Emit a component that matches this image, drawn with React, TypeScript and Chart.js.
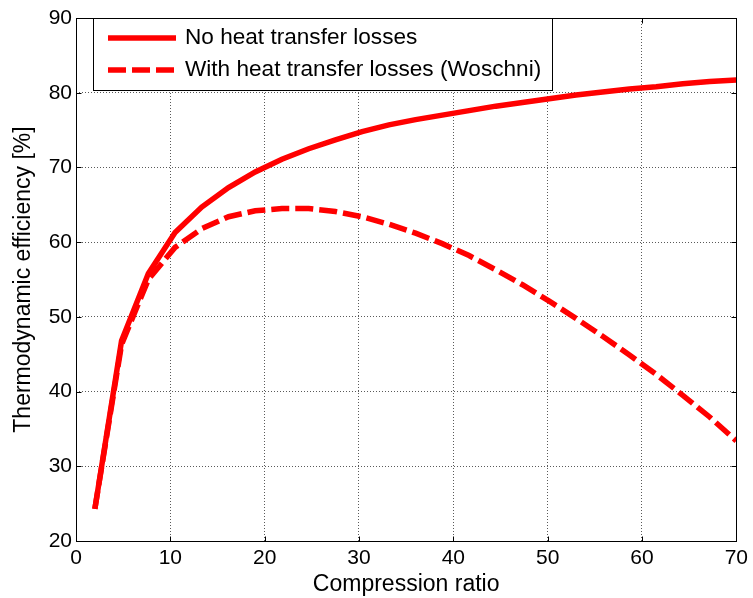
import { useEffect, useRef } from "react";
import { Chart, registerables } from "chart.js";

Chart.register(...registerables);

// Compression ratio sweep and resulting thermodynamic efficiency (%)
const compressionRatio = [
  2, 4.83, 7.67, 10.5, 13.33, 16.17, 19, 21.83, 24.67, 27.5, 30.33, 33.17, 36,
  38.83, 41.67, 44.5, 47.33, 50.17, 53, 55.83, 58.67, 61.5, 64.33, 67.17, 70,
];
const efficiencyNoLosses = [
  24.3, 46.8, 55.8, 61.3, 64.7, 67.3, 69.4, 71.1, 72.5, 73.7, 74.8, 75.7, 76.4,
  77.0, 77.6, 78.2, 78.7, 79.2, 79.7, 80.1, 80.5, 80.8, 81.2, 81.5, 81.7,
];
const efficiencyWoschni = [
  24.3, 46.3, 55.0, 59.3, 61.8, 63.4, 64.2, 64.5, 64.5, 64.1, 63.4, 62.4, 61.2,
  59.8, 58.2, 56.3, 54.3, 52.1, 49.8, 47.4, 44.9, 42.3, 39.5, 36.6, 33.4,
];

const xTickValues = [0, 10, 20, 30, 40, 50, 60, 70];
const yTickValues = [20, 30, 40, 50, 60, 70, 80, 90];
const seriesLabels = [
  "No heat transfer losses",
  "With heat transfer losses (Woschni)",
];
const xAxisTitle = "Compression ratio";
const yAxisTitle = "Thermodynamic efficiency [%]";

const FONT = "'Liberation Sans', Arial, Helvetica, sans-serif";
const RED = "#ff0000";
const DASH = [18, 6];
const LINE_W = 5.5;

// Draws the boxed axes with inward tick marks and the in-plot legend
const framePlugin = {
  id: "boxedFrame",
  afterDraw(chart: any) {
    const { ctx, chartArea: a, scales } = chart;
    const xs = scales.x;
    const ys = scales.y;
    const L = Math.round(a.left) + 0.5;
    const R = Math.round(a.right) + 0.5;
    const T = Math.round(a.top) + 0.5;
    const B = Math.round(a.bottom) + 0.5;
    const tick = 5;

    ctx.save();
    ctx.setLineDash([]);
    ctx.strokeStyle = "#000";
    ctx.lineWidth = 1;
    ctx.strokeRect(L, T, R - L, B - T);

    ctx.beginPath();
    xTickValues.forEach((v) => {
      const px = Math.round(xs.getPixelForValue(v)) + 0.5;
      ctx.moveTo(px, B);
      ctx.lineTo(px, B - tick);
      ctx.moveTo(px, T);
      ctx.lineTo(px, T + tick);
    });
    yTickValues.forEach((v) => {
      const py = Math.round(ys.getPixelForValue(v)) + 0.5;
      ctx.moveTo(L, py);
      ctx.lineTo(L + tick, py);
      ctx.moveTo(R, py);
      ctx.lineTo(R - tick, py);
    });
    ctx.stroke();

    // legend
    const lx = Math.round(a.left) + 17;
    const ly = Math.round(a.top);
    const lw = 459;
    const lh = 72;
    ctx.fillStyle = "#fff";
    ctx.fillRect(lx, ly, lw, lh);
    ctx.strokeStyle = "#000";
    ctx.lineWidth = 1;
    ctx.strokeRect(lx + 0.5, ly + 0.5, lw, lh);

    const rows = [ly + 20, ly + 52];
    chart.data.datasets.forEach((ds: any, i: number) => {
      const ry = rows[i];
      ctx.save();
      ctx.strokeStyle = ds.borderColor;
      ctx.lineWidth = ds.borderWidth;
      ctx.lineCap = "butt";
      ctx.setLineDash(ds.borderDash || []);
      ctx.beginPath();
      ctx.moveTo(lx + 15, ry);
      ctx.lineTo(lx + 83, ry);
      ctx.stroke();
      ctx.restore();
      ctx.fillStyle = "#000";
      ctx.font = `22.6px ${FONT}`;
      ctx.textAlign = "left";
      ctx.textBaseline = "middle";
      ctx.fillText(ds.label, lx + 92, ry);
    });
    ctx.restore();
  },
};

export default function App() {
  const canvasRef = useRef<HTMLCanvasElement | null>(null);

  useEffect(() => {
    if (!canvasRef.current) return;
    const chart = new Chart(canvasRef.current, {
      type: "line",
      data: {
        datasets: [
          {
            label: seriesLabels[0],
            data: compressionRatio.map((x, i) => ({ x, y: efficiencyNoLosses[i] })),
            borderColor: RED,
            backgroundColor: RED,
            borderWidth: LINE_W,
            pointRadius: 0,
            tension: 0,
            fill: false,
          },
          {
            label: seriesLabels[1],
            data: compressionRatio.map((x, i) => ({ x, y: efficiencyWoschni[i] })),
            borderColor: RED,
            backgroundColor: RED,
            borderWidth: LINE_W,
            borderDash: DASH,
            borderCapStyle: "butt",
            pointRadius: 0,
            tension: 0,
            fill: false,
          },
        ],
      },
      options: {
        animation: false,
        responsive: true,
        maintainAspectRatio: false,
        layout: { padding: { top: 18, right: 15, left: 0, bottom: 0 } },
        plugins: {
          legend: { display: false },
          tooltip: { enabled: false },
        },
        scales: {
          x: {
            type: "linear",
            min: 0,
            max: 70,
            afterBuildTicks: (s: any) => {
              s.ticks = xTickValues.map((value) => ({ value }));
            },
            afterFit: (s: any) => {
              s.height = 57;
            },
            ticks: {
              color: "#000",
              font: { family: FONT, size: 21 },
              padding: 5,
              maxRotation: 0,
              autoSkip: false,
            },
            grid: { color: "#5a5a5a", lineWidth: 1, drawTicks: false },
            border: { display: false, dash: [1, 2] },
            title: {
              display: true,
              text: xAxisTitle,
              color: "#000",
              font: { family: FONT, size: 23 },
              padding: { top: 0, bottom: 0 },
            },
          },
          y: {
            type: "linear",
            min: 20,
            max: 90,
            afterBuildTicks: (s: any) => {
              s.ticks = yTickValues.map((value) => ({ value }));
            },
            afterFit: (s: any) => {
              s.width = 76;
            },
            ticks: {
              color: "#000",
              font: { family: FONT, size: 21 },
              padding: 4,
              autoSkip: false,
            },
            grid: { color: "#5a5a5a", lineWidth: 1, drawTicks: false },
            border: { display: false, dash: [1, 2] },
            title: {
              display: true,
              text: yAxisTitle,
              color: "#000",
              font: { family: FONT, size: 23 },
              padding: { top: 10, bottom: 0 },
            },
          },
        },
      },
      plugins: [framePlugin],
    });
    return () => chart.destroy();
  }, []);

  return (
    <div
      style={{
        position: "fixed",
        left: 0,
        top: 0,
        width: 753,
        height: 598,
        background: "#fff",
      }}
    >
      <canvas ref={canvasRef} />
    </div>
  );
}
